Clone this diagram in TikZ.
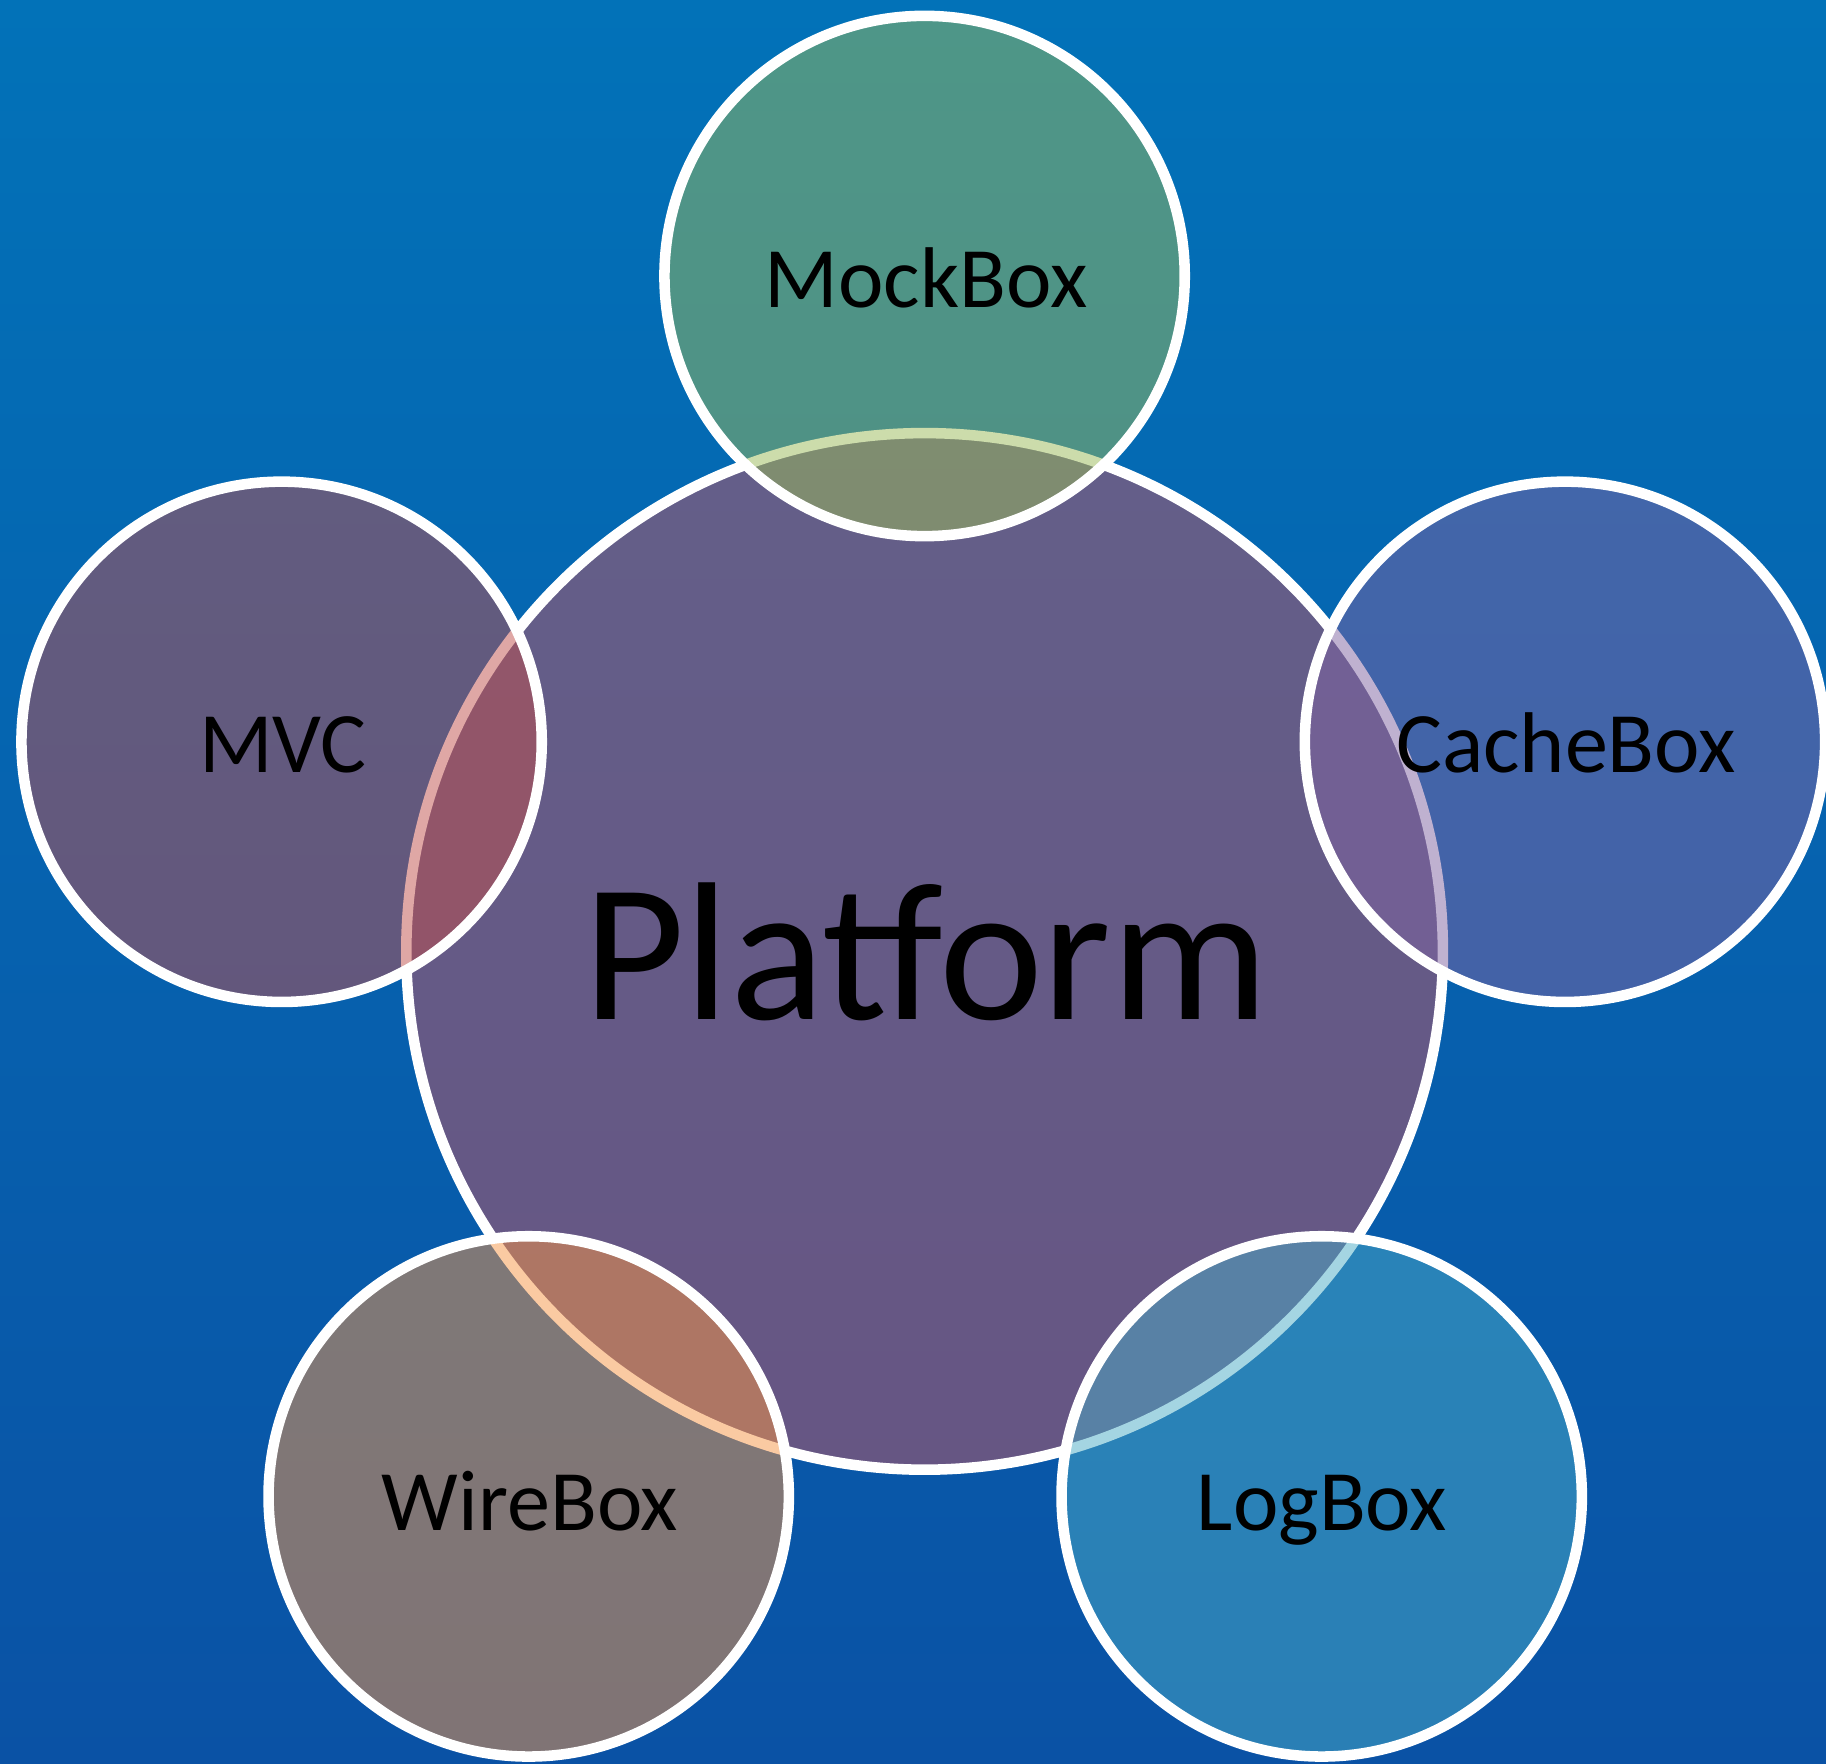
\documentclass[tikz,border=0pt]{standalone}
\usepackage{fontspec}
\setmainfont{Carlito}
\definecolor{bgtop}{HTML}{0272B8}
\definecolor{bgbot}{HTML}{0A52A5}
\definecolor{offred}{HTML}{C0504D}
\definecolor{platred}{HTML}{C45560}
\definecolor{offgreen}{HTML}{9BBB59}
\definecolor{offpurple}{HTML}{8064A2}
\definecolor{offaqua}{HTML}{4BACC6}
\definecolor{offorange}{HTML}{F79646}
\tikzset{
  ring/.style={circle, draw=white, line width=3pt, fill opacity=0.5, draw opacity=1, inner sep=0pt},
  sat/.style={ring, minimum size=5.2cm},
  lbl/.style={anchor=base, inner sep=0pt, text=black, font=\fontsize{24.5}{28}\selectfont},
  biglbl/.style={anchor=base, inner sep=0pt, text=black, font=\fontsize{56}{60}\selectfont}
}
\begin{document}
\begin{tikzpicture}[x=0.01cm, y=-0.01cm]
\useasboundingbox (0,0) rectangle (1826,1764);
\shade[top color=bgtop, bottom color=bgbot] (0,0) rectangle (1826,1764);
% central circle
\node[ring, fill=platred, minimum size=10.36cm] (plat) at (924.6,951.4) {};
% satellites
\node[sat, fill=offgreen] (mock) at (924.6,276) {};
\node[sat, fill=offred] (mvc) at (281.6,741.8) {};
\node[sat, fill=offpurple] (cache) at (1565,741.8) {};
\node[sat, fill=offorange] (wire) at (528.7,1496.4) {};
\node[sat, fill=offaqua] (log) at (1321.7,1496.4) {};
% labels
\node[biglbl] (tplat) at (926,1020) {Platform};
\node[lbl] (tmock) at (926,308) {MockBox};
\node[lbl] (tmvc) at (283,773) {MVC};
\node[lbl] (tcache) at (1566,773) {CacheBox};
\node[lbl] (twire) at (530,1530) {WireBox};
\node[lbl] (tlog) at (1322,1530) {LogBox};
\end{tikzpicture}
\end{document}
